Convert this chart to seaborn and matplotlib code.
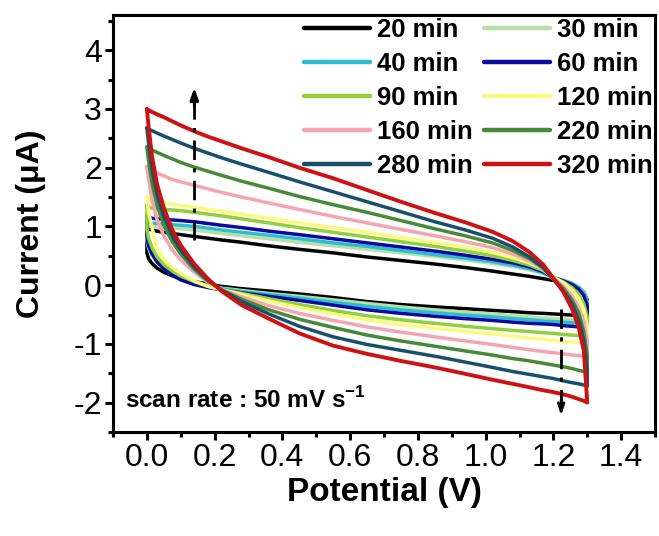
import matplotlib
matplotlib.use("Agg")
import matplotlib.pyplot as plt
from matplotlib.ticker import AutoMinorLocator
import numpy as np
import pandas as pd
import seaborn as sns

# ---------------- data ----------------
potential = [0.0, 0.005, 0.015, 0.03, 0.05, 0.075, 0.10, 0.14, 0.18, 0.22,
             0.28, 0.36, 0.45, 0.55, 0.65, 0.75, 0.85, 0.94, 1.02, 1.08,
             1.13, 1.17, 1.20, 1.23, 1.255, 1.275, 1.29, 1.30]

times = ["20 min", "30 min", "40 min", "60 min", "90 min",
         "120 min", "160 min", "220 min", "280 min", "320 min"]

colors = ["#000000", "#b9dea8", "#2cbdd3", "#0a0a9e", "#8fd03c",
          "#fafa80", "#f4a5b0", "#468a38", "#1a4f6b", "#cc1212"]

# forward (upper) branches, µA
up_20 = [0.98, 0.96, 0.94, 0.92, 0.90, 0.88, 0.86, 0.83, 0.80, 0.77, 0.73, 0.67, 0.61, 0.55,
         0.48, 0.42, 0.36, 0.30, 0.24, 0.19, 0.15, 0.11, 0.08, 0.05, 0.01, -0.04, -0.12, -0.25]
up_30 = [1.03, 1.01, 1.00, 0.99, 0.98, 0.97, 0.96, 0.94, 0.91, 0.88, 0.84, 0.79, 0.73, 0.67,
         0.61, 0.55, 0.49, 0.43, 0.37, 0.32, 0.26, 0.20, 0.12, 0.08, 0.03, -0.03, -0.12, -0.28]
up_40 = [1.09, 1.07, 1.06, 1.05, 1.04, 1.03, 1.02, 1.00, 0.97, 0.94, 0.90, 0.85, 0.79, 0.72,
         0.66, 0.59, 0.52, 0.46, 0.40, 0.34, 0.28, 0.21, 0.13, 0.08, 0.03, -0.04, -0.14, -0.30]
up_60 = [1.18, 1.16, 1.14, 1.13, 1.12, 1.11, 1.10, 1.08, 1.05, 1.02, 0.98, 0.92, 0.86, 0.79,
         0.72, 0.65, 0.58, 0.51, 0.44, 0.38, 0.31, 0.23, 0.13, 0.07, 0.01, -0.07, -0.18, -0.35]
up_90 = [1.36, 1.33, 1.31, 1.30, 1.29, 1.28, 1.27, 1.24, 1.21, 1.18, 1.13, 1.06, 0.98, 0.90,
         0.82, 0.74, 0.66, 0.58, 0.50, 0.42, 0.34, 0.25, 0.13, 0.05, -0.04, -0.16, -0.32, -0.55]
up_120 = [1.50, 1.47, 1.44, 1.42, 1.40, 1.38, 1.36, 1.33, 1.29, 1.26, 1.21, 1.14, 1.06, 0.98,
          0.90, 0.81, 0.73, 0.65, 0.56, 0.47, 0.38, 0.27, 0.14, 0.04, -0.08, -0.22, -0.42, -0.70]
up_160 = [2.02, 1.99, 1.95, 1.91, 1.86, 1.80, 1.76, 1.70, 1.64, 1.58, 1.50, 1.40, 1.29, 1.17,
          1.06, 0.95, 0.84, 0.74, 0.64, 0.53, 0.41, 0.27, 0.12, -0.02, -0.18, -0.38, -0.62, -0.95]
up_220 = [2.35, 2.33, 2.30, 2.26, 2.21, 2.15, 2.09, 2.01, 1.94, 1.87, 1.77, 1.65, 1.51, 1.37,
          1.24, 1.10, 0.96, 0.84, 0.72, 0.59, 0.45, 0.29, 0.11, -0.06, -0.25, -0.48, -0.80, -1.20]
up_280 = [2.68, 2.66, 2.63, 2.59, 2.54, 2.48, 2.42, 2.33, 2.25, 2.17, 2.06, 1.92, 1.76, 1.59,
          1.42, 1.25, 1.08, 0.94, 0.80, 0.65, 0.48, 0.30, 0.10, -0.10, -0.32, -0.60, -0.95, -1.50]
up_320 = [3.00, 2.98, 2.95, 2.91, 2.86, 2.79, 2.72, 2.62, 2.53, 2.45, 2.33, 2.18, 2.00, 1.82,
          1.62, 1.42, 1.23, 1.07, 0.91, 0.75, 0.56, 0.35, 0.12, -0.12, -0.40, -0.72, -1.12, -2.00]

# reverse (lower) branches, µA
low_20 = [0.55, 0.45, 0.37, 0.29, 0.22, 0.16, 0.12, 0.06, 0.02, -0.02, -0.06, -0.10, -0.15, -0.21,
          -0.28, -0.33, -0.37, -0.40, -0.43, -0.45, -0.47, -0.48, -0.49, -0.50, -0.51, -0.51, -0.52, -0.52]
low_30 = [0.78, 0.63, 0.51, 0.39, 0.28, 0.18, 0.11, 0.04, -0.01, -0.05, -0.09, -0.14, -0.19, -0.25,
          -0.31, -0.37, -0.42, -0.46, -0.49, -0.52, -0.54, -0.56, -0.57, -0.58, -0.59, -0.59, -0.60, -0.60]
low_40 = [0.82, 0.66, 0.53, 0.40, 0.29, 0.18, 0.11, 0.03, -0.02, -0.06, -0.11, -0.16, -0.22, -0.29,
          -0.36, -0.42, -0.47, -0.51, -0.54, -0.57, -0.59, -0.61, -0.62, -0.63, -0.64, -0.64, -0.65, -0.65]
low_60 = [0.85, 0.68, 0.54, 0.40, 0.28, 0.17, 0.09, 0.01, -0.04, -0.08, -0.13, -0.19, -0.26, -0.34,
          -0.42, -0.48, -0.53, -0.57, -0.60, -0.63, -0.65, -0.66, -0.67, -0.69, -0.70, -0.71, -0.72, -0.72]
low_90 = [0.95, 0.80, 0.64, 0.48, 0.35, 0.24, 0.16, 0.06, -0.02, -0.07, -0.14, -0.23, -0.33, -0.43,
          -0.52, -0.59, -0.65, -0.70, -0.74, -0.77, -0.79, -0.81, -0.82, -0.84, -0.85, -0.86, -0.87, -0.88]
low_120 = [1.50, 1.25, 0.98, 0.64, 0.44, 0.30, 0.20, 0.07, -0.02, -0.08, -0.16, -0.27, -0.38, -0.49,
           -0.59, -0.67, -0.73, -0.79, -0.83, -0.87, -0.90, -0.92, -0.94, -0.96, -0.97, -0.98, -0.99, -1.00]
low_160 = [2.02, 1.80, 1.46, 1.12, 0.84, 0.60, 0.43, 0.22, 0.05, -0.07, -0.20, -0.35, -0.48, -0.60,
           -0.71, -0.80, -0.88, -0.95, -1.01, -1.06, -1.10, -1.13, -1.15, -1.17, -1.19, -1.20, -1.21, -1.22]
low_220 = [2.35, 2.12, 1.74, 1.36, 1.02, 0.74, 0.53, 0.27, 0.07, -0.08, -0.24, -0.42, -0.58, -0.72,
           -0.85, -0.95, -1.04, -1.12, -1.19, -1.25, -1.29, -1.33, -1.36, -1.39, -1.42, -1.45, -1.47, -1.48]
low_280 = [2.68, 2.42, 1.98, 1.55, 1.17, 0.84, 0.60, 0.31, 0.09, -0.08, -0.28, -0.49, -0.70, -0.88,
           -1.01, -1.11, -1.21, -1.31, -1.40, -1.47, -1.52, -1.56, -1.59, -1.63, -1.66, -1.68, -1.70, -1.72]
low_320 = [3.00, 2.70, 2.20, 1.72, 1.32, 0.94, 0.68, 0.36, 0.11, -0.10, -0.34, -0.57, -0.82, -1.03,
           -1.17, -1.29, -1.40, -1.51, -1.61, -1.68, -1.74, -1.79, -1.82, -1.86, -1.90, -1.94, -1.97, -2.00]

uppers = [up_20, up_30, up_40, up_60, up_90, up_120, up_160, up_220, up_280, up_320]
lowers = [low_20, low_30, low_40, low_60, low_90, low_120, low_160, low_220, low_280, low_320]

# one closed loop per curve (forward scan, then reverse scan)
rows = []
for t, up, low in zip(times, uppers, lowers):
    xs = potential + potential[::-1] + [potential[0]]
    ys = up + low[::-1] + [up[0]]
    for i, (x, y) in enumerate(zip(xs, ys)):
        rows.append({"time": t, "step": i, "Potential": x, "Current": y})
df = pd.DataFrame(rows)

# ---------------- style ----------------
sns.set_style("ticks")
plt.rcParams["font.family"] = ["Liberation Sans", "DejaVu Sans"]
plt.rcParams["axes.unicode_minus"] = False
plt.rcParams["mathtext.fontset"] = "custom"
plt.rcParams["mathtext.rm"] = "Liberation Sans"
plt.rcParams["mathtext.bf"] = "Liberation Sans:bold"
for k in ["text.color", "axes.labelcolor", "xtick.color", "ytick.color",
          "axes.edgecolor", "xtick.labelcolor", "ytick.labelcolor"]:
    plt.rcParams[k] = "black"

fig = plt.figure(figsize=(6.59, 5.36), dpi=100)
ax = fig.add_axes([113 / 659, 1 - 432 / 536, (655 - 113) / 659, (432 - 15) / 536])

sns.lineplot(data=df, x="Potential", y="Current", hue="time", hue_order=times,
             palette=dict(zip(times, colors)), sort=False, estimator=None,
             linewidth=2.5, legend=False, ax=ax)
lines = ax.get_lines()[:len(times)]
lines[-1].set_linewidth(2.8)

ax.set_xticks(np.arange(0, 1.41, 0.2))
ax.set_xticklabels([f"{v:.1f}" for v in np.arange(0, 1.41, 0.2)])
ax.set_yticks(np.arange(-2, 4.1, 1))
ax.xaxis.set_minor_locator(AutoMinorLocator(2))
ax.yaxis.set_minor_locator(AutoMinorLocator(2))
ax.set_xlim(-0.1, 1.5)
ax.set_ylim(-2.5, 4.6)

for sp in ax.spines.values():
    sp.set_linewidth(2.2)
    sp.set_color("black")
ax.tick_params(axis="both", which="major", direction="out", length=6, width=2.2,
               labelsize=23, pad=2, color="black", labelcolor="black")
ax.tick_params(axis="both", which="minor", direction="out", length=3.5, width=2.2,
               color="black")
ax.tick_params(top=False, right=False, which="both")

ax.set_xlabel("Potential (V)", fontsize=24, fontweight="bold", labelpad=3,
              color="black")
ax.set_ylabel("Current (\u03bcA)", fontsize=23, fontweight="bold", labelpad=20,
              color="black")

# legend (row-wise order like the reference)
order = [0, 2, 4, 6, 8, 1, 3, 5, 7, 9]
leg = ax.legend([lines[i] for i in order], [times[i] for i in order], ncol=2,
                loc="upper right", bbox_to_anchor=(1.0, 1.0), frameon=False,
                borderpad=0.1, borderaxespad=0.0, handlelength=2.55,
                handletextpad=0.27, columnspacing=0.45, labelspacing=0.39,
                prop={"weight": "bold", "size": 18.5})
for h in leg.legend_handles:
    h.set_linewidth(3.2)
for txt in leg.get_texts():
    txt.set_color("black")

ax.text(-0.065, -2.09, r"scan rate : 50 mV s$^{\mathbf{-1}}$", fontsize=17.5,
        fontweight="bold", va="baseline", ha="left", color="black")

# dash-dot arrows
dd = (0, (7, 3, 1.5, 3))
ax.plot([0.14, 0.14], [0.77, 3.2], color="black", lw=2, linestyle=dd)
ax.annotate("", xy=(0.14, 3.36), xytext=(0.14, 3.05),
            arrowprops=dict(arrowstyle="-|>,head_length=0.7,head_width=0.25",
                            color="black", lw=2, shrinkA=0, shrinkB=0))
ax.plot([1.223, 1.223], [-0.4, -2.05], color="black", lw=2, linestyle=dd)
ax.annotate("", xy=(1.223, -2.22), xytext=(1.223, -1.95),
            arrowprops=dict(arrowstyle="->,head_length=0.6,head_width=0.2",
                            color="black", lw=2, shrinkA=0, shrinkB=0))

fig.savefig("out.png", dpi=100)
